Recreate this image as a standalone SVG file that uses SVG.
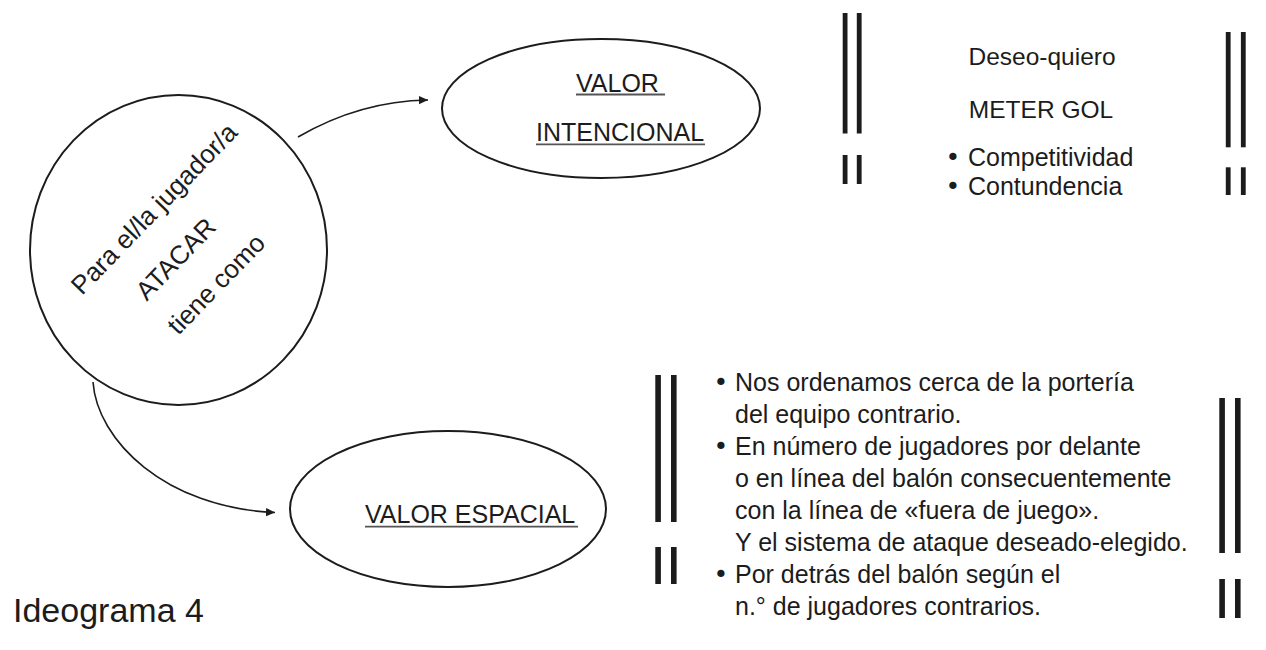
<svg xmlns="http://www.w3.org/2000/svg" width="1266" height="650" viewBox="0 0 1266 650">
<style>
  .t { font-family: "Liberation Sans", Arial, sans-serif; fill: #1c1c1c; }
  .s25 { font-size: 25px; }
  .b { font-family: "DejaVu Sans", sans-serif; }
  .shape { fill: none; stroke: #1c1c1c; stroke-width: 2; }
  .con { fill: none; stroke: #1c1c1c; stroke-width: 1.6; }
  .ul { stroke: #555; stroke-width: 1.8; }
  .bar { fill: #1c1c1c; }
</style>
<defs>
  <marker id="arr" markerUnits="userSpaceOnUse" markerWidth="12" markerHeight="10" refX="9" refY="5" orient="auto">
    <path d="M0,0.8 L9,5 L0,9.2 Z" fill="#1c1c1c"/>
  </marker>
</defs>
<rect width="1266" height="650" fill="#ffffff"/>

<g id="connectors">
  <path class="con" d="M298,137 Q360,101 428,100" marker-end="url(#arr)"/>
  <path class="con" d="M93,382 C97,440 165,508 275,512.5" marker-end="url(#arr)"/>
</g>

<g id="node-atacar">
  <ellipse class="shape" cx="178.5" cy="250" rx="148.5" ry="155"/>
  <g transform="rotate(-46 178 250)">
    <text class="t" font-size="26" text-anchor="middle" x="191" y="213">Para el/la jugador/a</text>
    <text class="t" font-size="26" text-anchor="middle" x="170" y="263.5">ATACAR</text>
    <text class="t" font-size="26" text-anchor="middle" x="180" y="310">tiene como</text>
  </g>
</g>

<g id="node-intencional">
  <ellipse class="shape" cx="601" cy="108.5" rx="159" ry="69.5"/>
  <text class="t s25" x="576" y="92">VALOR</text>
  <line class="ul" x1="576" y1="94.5" x2="665" y2="94.5"/>
  <text class="t s25" x="536" y="141">INTENCIONAL</text>
  <line class="ul" x1="536" y1="144.3" x2="705" y2="144.3"/>
</g>

<g id="node-espacial">
  <ellipse class="shape" cx="448" cy="509" rx="158" ry="78"/>
  <text class="t s25" x="365" y="523">VALOR ESPACIAL</text>
  <line class="ul" x1="365" y1="526.7" x2="578" y2="526.7"/>
</g>

<g id="bars-top">
  <rect class="bar" x="842.7" y="13" width="4.8" height="120.5"/>
  <rect class="bar" x="856.8" y="13" width="4.8" height="120.5"/>
  <rect class="bar" x="842.7" y="155" width="4.8" height="29"/>
  <rect class="bar" x="856.8" y="155" width="4.8" height="29"/>
  <rect class="bar" x="1225.8" y="32" width="4.8" height="115.3"/>
  <rect class="bar" x="1240.9" y="32" width="4.8" height="115.3"/>
  <rect class="bar" x="1225.8" y="167.3" width="4.8" height="27.7"/>
  <rect class="bar" x="1240.9" y="167.3" width="4.8" height="27.7"/>
</g>

<g id="text-intencional">
  <text class="t" font-size="24.5" text-anchor="middle" x="1042" y="65">Deseo-quiero</text>
  <text class="t" font-size="24.5" text-anchor="middle" x="1041" y="118">METER GOL</text>
  <text class="t s25" x="945.6" y="165.5"><tspan class="b">•</tspan><tspan x="968">Competitividad</tspan></text>
  <text class="t s25" x="945.6" y="195"><tspan class="b">•</tspan><tspan x="968">Contundencia</tspan></text>
</g>

<g id="bars-bottom">
  <rect class="bar" x="655.3" y="375" width="5.6" height="147"/>
  <rect class="bar" x="671" y="375" width="5.6" height="147"/>
  <rect class="bar" x="655.3" y="547" width="5.6" height="37"/>
  <rect class="bar" x="671" y="547" width="5.6" height="37"/>
  <rect class="bar" x="1219.3" y="398" width="5.6" height="155"/>
  <rect class="bar" x="1235" y="398" width="5.6" height="155"/>
  <rect class="bar" x="1219.3" y="579" width="5.6" height="39"/>
  <rect class="bar" x="1235" y="579" width="5.6" height="39"/>
</g>

<g id="text-espacial">
  <text class="t s25" x="713.6" y="391"><tspan class="b">•</tspan><tspan x="735">Nos ordenamos cerca de la portería</tspan></text>
  <text class="t s25" x="735" y="423">del equipo contrario.</text>
  <text class="t s25" x="713.6" y="455"><tspan class="b">•</tspan><tspan x="735">En número de jugadores por delante</tspan></text>
  <text class="t s25" x="735" y="487">o en línea del balón consecuentemente</text>
  <text class="t s25" x="735" y="519">con la línea de «fuera de juego».</text>
  <text class="t s25" x="735" y="551">Y el sistema de ataque deseado-elegido.</text>
  <text class="t s25" x="713.6" y="583"><tspan class="b">•</tspan><tspan x="735">Por detrás del balón según el</tspan></text>
  <text class="t s25" x="735" y="615">n.° de jugadores contrarios.</text>
</g>

<text id="caption" class="t" font-size="34" x="13" y="622">Ideograma 4</text>
</svg>
